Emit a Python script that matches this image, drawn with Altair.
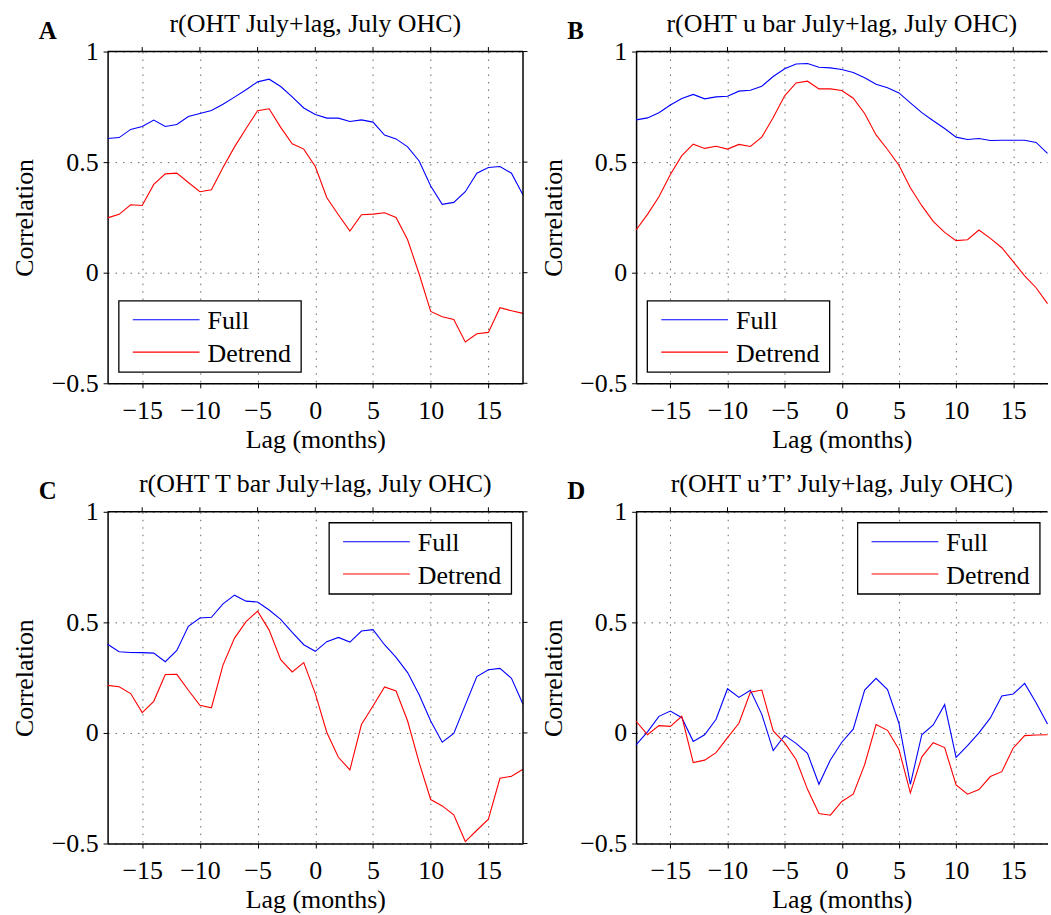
import altair as alt
import pandas as pd

LAGS = list(range(-18, 19))

A_FULL = [0.607, 0.611, 0.648, 0.661, 0.690, 0.661, 0.670, 0.706, 0.720, 0.733, 0.762, 0.794, 0.827,
          0.863, 0.875, 0.842, 0.795, 0.745, 0.715, 0.699, 0.699, 0.684, 0.691, 0.681, 0.622, 0.605,
          0.569, 0.505, 0.392, 0.309, 0.318, 0.366, 0.450, 0.476, 0.480, 0.450, 0.351]
A_DET = [0.248, 0.264, 0.307, 0.304, 0.399, 0.447, 0.450, 0.408, 0.366, 0.375, 0.476, 0.569, 0.652,
         0.732, 0.741, 0.657, 0.583, 0.559, 0.480, 0.339, 0.262, 0.188, 0.262, 0.265, 0.271, 0.250,
         0.149, -0.006, -0.175, -0.199, -0.212, -0.313, -0.276, -0.270, -0.158, -0.172, -0.184]

B_FULL = [0.691, 0.700, 0.723, 0.758, 0.788, 0.806, 0.786, 0.795, 0.798, 0.821, 0.825, 0.843, 0.887,
          0.922, 0.944, 0.946, 0.929, 0.926, 0.919, 0.905, 0.881, 0.852, 0.836, 0.813, 0.768, 0.724,
          0.687, 0.652, 0.613, 0.602, 0.607, 0.598, 0.599, 0.599, 0.599, 0.589, 0.540]
B_DET = [0.193, 0.264, 0.343, 0.444, 0.529, 0.581, 0.562, 0.572, 0.559, 0.580, 0.571, 0.613, 0.702,
         0.800, 0.858, 0.866, 0.831, 0.831, 0.824, 0.789, 0.720, 0.623, 0.557, 0.486, 0.384, 0.303,
         0.232, 0.182, 0.145, 0.149, 0.193, 0.155, 0.113, 0.050, -0.014, -0.068, -0.140]

C_FULL = [0.401, 0.367, 0.364, 0.363, 0.361, 0.322, 0.373, 0.482, 0.520, 0.523, 0.584, 0.623, 0.596,
          0.592, 0.556, 0.514, 0.455, 0.399, 0.369, 0.413, 0.432, 0.411, 0.461, 0.467, 0.399, 0.342,
          0.273, 0.173, 0.054, -0.042, -0.002, 0.127, 0.255, 0.286, 0.292, 0.247, 0.130]
C_DET = [0.215, 0.209, 0.178, 0.092, 0.143, 0.264, 0.265, 0.193, 0.125, 0.114, 0.307, 0.429, 0.503,
         0.551, 0.465, 0.331, 0.276, 0.318, 0.178, 0.002, -0.110, -0.167, 0.038, 0.122, 0.208, 0.190,
         0.054, -0.134, -0.301, -0.330, -0.370, -0.491, -0.440, -0.390, -0.205, -0.196, -0.164]

D_FULL = [-0.054, 0.005, 0.075, 0.099, 0.069, -0.038, -0.008, 0.062, 0.200, 0.161, 0.193, 0.084, -0.080,
          -0.011, -0.047, -0.092, -0.232, -0.122, -0.042, 0.017, 0.194, 0.247, 0.196, 0.044, -0.232,
          -0.008, 0.036, 0.128, -0.110, -0.057, 0.000, 0.068, 0.167, 0.176, 0.224, 0.137, 0.040]
D_DET = [0.053, -0.008, 0.033, 0.030, 0.075, -0.134, -0.123, -0.089, -0.021, 0.044, 0.184, 0.194, 0.009,
         -0.045, -0.120, -0.255, -0.364, -0.372, -0.310, -0.277, -0.143, 0.038, 0.012, -0.075, -0.271,
         -0.108, -0.044, -0.066, -0.235, -0.277, -0.256, -0.197, -0.175, -0.068, -0.012, -0.009, -0.008]

TITLES = ["r(OHT July+lag, July OHC)", "r(OHT u bar July+lag, July OHC)",
          "r(OHT T bar July+lag, July OHC)", "r(OHT u\u2019T\u2019 July+lag, July OHC)"]
LETTERS = ["A", "B", "C", "D"]
SERIES = ["Full", "Detrend"]
COLORS = ["#0000ff", "#ff0000"]
X_TICKS = [-15, -10, -5, 0, 5, 10, 15]
Y_TICKS = [-0.5, 0, 0.5, 1]
X_DOMAIN = [-18, 18]
Y_DOMAIN = [-0.5, 1]

FONT = "Liberation Serif"
FS = 26
H = 333
TICK = 4.5
LW = 1.5


def panel(letter, title, full, det, width, legend_pos, right_frame, spacer=False):
    df = pd.DataFrame({"lag": LAGS + LAGS, "r": full + det,
                       "series": ["Full"] * len(LAGS) + ["Detrend"] * len(LAGS)})
    xs = alt.Scale(domain=X_DOMAIN, nice=False, zero=False)
    ys = alt.Scale(domain=Y_DOMAIN, nice=False, zero=False)
    xaxis = alt.Axis(values=X_TICKS, format="~g", title="Lag (months)",
                     labelBaseline="alphabetic", labelPadding=31, tickSize=TICK,
                     titleBaseline="alphabetic", titleY=64, labelFlush=False)
    yaxis = alt.Axis(values=Y_TICKS, format="~g", title="Correlation",
                     labelPadding=5, tickSize=TICK, titleAngle=270, titleAlign="center",
                     titleBaseline="alphabetic", titleX=-75, titleY=H / 2)
    one = pd.DataFrame({"k": [0]})
    layers = []
    lines = alt.Chart(df).mark_line(strokeWidth=1.1).encode(
        x=alt.X("lag:Q", scale=xs, axis=xaxis),
        y=alt.Y("r:Q", scale=ys, axis=yaxis),
        color=alt.Color("series:N", scale=alt.Scale(domain=SERIES, range=COLORS), legend=None),
    )
    layers.append(lines)
    if spacer:
        layers.append(alt.Chart(one).mark_rect(opacity=0).encode(
            x=alt.value(-107), x2=alt.value(0), y=alt.value(-49), y2=alt.value(0)))
    # top frame + top ticks
    layers.append(alt.Chart(one).mark_rule(color="black", strokeWidth=LW).encode(
        x=alt.value(0), x2=alt.value(width), y=alt.value(0)))
    layers.append(alt.Chart(pd.DataFrame({"t": X_TICKS})).mark_rule(color="black", strokeWidth=1).encode(
        x=alt.X("t:Q", scale=xs, axis=xaxis), y=alt.value(-TICK), y2=alt.value(0)))
    if right_frame:
        layers.append(alt.Chart(one).mark_rule(color="black", strokeWidth=LW).encode(
            x=alt.value(width), y=alt.value(0), y2=alt.value(H)))
        layers.append(alt.Chart(pd.DataFrame({"t": Y_TICKS})).mark_rule(color="black", strokeWidth=1).encode(
            y=alt.Y("t:Q", scale=ys, axis=yaxis), x=alt.value(width), x2=alt.value(width + TICK)))
    # legend
    bx, by = legend_pos
    layers.append(alt.Chart(one).mark_rect(fill="white", stroke="black", strokeWidth=1.3).encode(
        x=alt.value(bx), x2=alt.value(bx + 183), y=alt.value(by), y2=alt.value(by + 71.5)))
    for i, (name, col) in enumerate(zip(SERIES, COLORS)):
        yl = by + 19 + i * 32.4
        layers.append(alt.Chart(one).mark_rule(color=col, strokeWidth=1.1).encode(
            x=alt.value(bx + 14), x2=alt.value(bx + 81), y=alt.value(yl)))
        layers.append(alt.Chart(one).mark_text(
            text=name, font=FONT, fontSize=FS, align="left", baseline="alphabetic", color="black").encode(
            x=alt.value(bx + 89), y=alt.value(yl + 9.6)))
    # panel title and letter
    layers.append(alt.Chart(one).mark_text(
        text=title, font=FONT, fontSize=FS, align="center", baseline="alphabetic",
        color="black").encode(x=alt.value(width / 2), y=alt.value(-19.7)))
    layers.append(alt.Chart(one).mark_text(
        text=letter, font=FONT, fontSize=25, fontWeight="bold", align="left",
        baseline="alphabetic", color="black").encode(x=alt.value(-69), y=alt.value(-12.5)))
    return alt.layer(*layers).properties(width=width, height=H)


pA = panel(LETTERS[0], TITLES[0], A_FULL, A_DET, 417, (11.3, 250.3), True, spacer=True)
pB = panel(LETTERS[1], TITLES[1], B_FULL, B_DET, 413, (11.3, 250.3), False)
pC = panel(LETTERS[2], TITLES[2], C_FULL, C_DET, 417, (222.4, 11), True)
pD = panel(LETTERS[3], TITLES[3], D_FULL, D_DET, 413, (222.4, 11), False)

chart = alt.concat(pA, pB, pC, pD, columns=2, spacing={"row": 129, "column": 113.5},
                   bounds="flush").properties(padding=0).configure_view(
    stroke="transparent").configure_axis(
    labelFont=FONT, labelFontSize=FS, labelColor="black",
    titleFont=FONT, titleFontSize=FS, titleFontWeight="normal", titleColor="black",
    tickColor="black", tickWidth=1, domainColor="black", domainWidth=LW,
    grid=True, gridColor="#666666", gridDash=[1.5, 6], gridWidth=1)

chart.save("out.html", embed_options={"renderer": "svg", "actions": False})
